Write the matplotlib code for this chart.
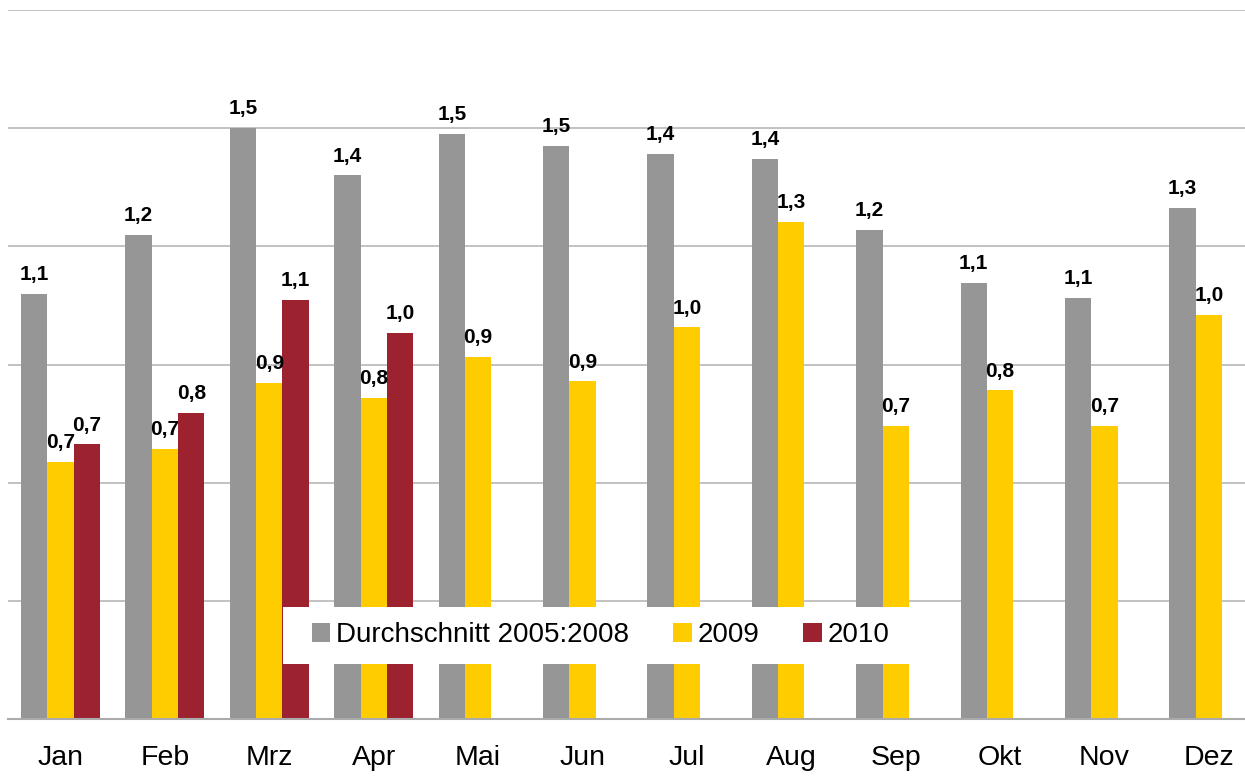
import matplotlib
matplotlib.use("Agg")
import matplotlib.pyplot as plt
import numpy as np
from matplotlib.patches import Rectangle

months = ["Jan", "Feb", "Mrz", "Apr", "Mai", "Jun", "Jul", "Aug", "Sep", "Okt", "Nov", "Dez"]
avg_2005_2008 = [1.08, 1.23, 1.50, 1.38, 1.485, 1.454, 1.434, 1.421, 1.241, 1.106, 1.068, 1.297]
y2009 = [0.653, 0.686, 0.854, 0.816, 0.92, 0.857, 0.994, 1.261, 0.744, 0.834, 0.744, 1.025]
y2010 = [0.697, 0.778, 1.065, 0.979]
series_names = ["Durchschnitt 2005:2008", "2009", "2010"]
colors = ["#969696", "#FFCC00", "#9C2230"]

plt.rcParams['font.family'] = ['Liberation Sans', 'DejaVu Sans']

W, H = 1245, 776
fig = plt.figure(figsize=(W / 100, H / 100), dpi=100)
# axes in pixel coords
ax_left, ax_bottom, ax_w, ax_h = 8.3, 57, 1252.8, 709
ax = fig.add_axes([ax_left / W, ax_bottom / H, ax_w / W, ax_h / H])

x = np.arange(len(months))
w = 0.252
data = [avg_2005_2008, y2009, y2010]
offsets = [-w, 0, w]
for vals, off, col, name in zip(data, offsets, colors, series_names):
    xs = x[:len(vals)] + off
    bars = ax.bar(xs, vals, width=w, color=col, label=name, zorder=2)
    for xi, v in zip(xs, vals):
        ax.annotate(f"{v:.1f}".replace(".", ","), (xi, v), xytext=(0, 10),
                    textcoords="offset points", ha="center", va="baseline",
                    fontsize=15, fontweight="bold", color="black", zorder=3)

ax.set_xlim(-0.5, len(months) - 0.5)
ax.set_ylim(0, 1.8)
ax.set_yticks(np.arange(0, 1.81, 0.3))
ax.yaxis.grid(True, color="#B8B8B8", linewidth=1.2, zorder=0)
ax.set_axisbelow(True)
ax.tick_params(axis="y", left=False, labelleft=False)
ax.set_xticks(x)
ax.set_xticklabels(months, fontsize=20.5)
ax.tick_params(axis="x", length=0, pad=19)
for s in ["top", "left", "right"]:
    ax.spines[s].set_visible(False)
ax.spines["bottom"].set_color("#ABABAB")
ax.spines["bottom"].set_linewidth(1.5)
ax.spines["bottom"].set_zorder(3)

# legend box
bx0, bx1, by0, by1 = 283, 918, 607, 664
rect = Rectangle((bx0 / W, 1 - by1 / H), (bx1 - bx0) / W, (by1 - by0) / H,
                 transform=fig.transFigure, facecolor="white", edgecolor="none",
                 zorder=4.5, clip_on=False)
ax.add_patch(rect)
leg = ax.legend(loc="center", bbox_to_anchor=((bx0 + bx1) / 2 / W, 1 - (by0 + by1) / 2 / H),
                bbox_transform=fig.transFigure, ncol=3, frameon=False, fontsize=20,
                handlelength=0.68, handleheight=0.65, handletextpad=0.2,
                columnspacing=1.58, borderpad=0, borderaxespad=0)
leg.set_zorder(5)

fig.savefig("out.png", dpi=100)
